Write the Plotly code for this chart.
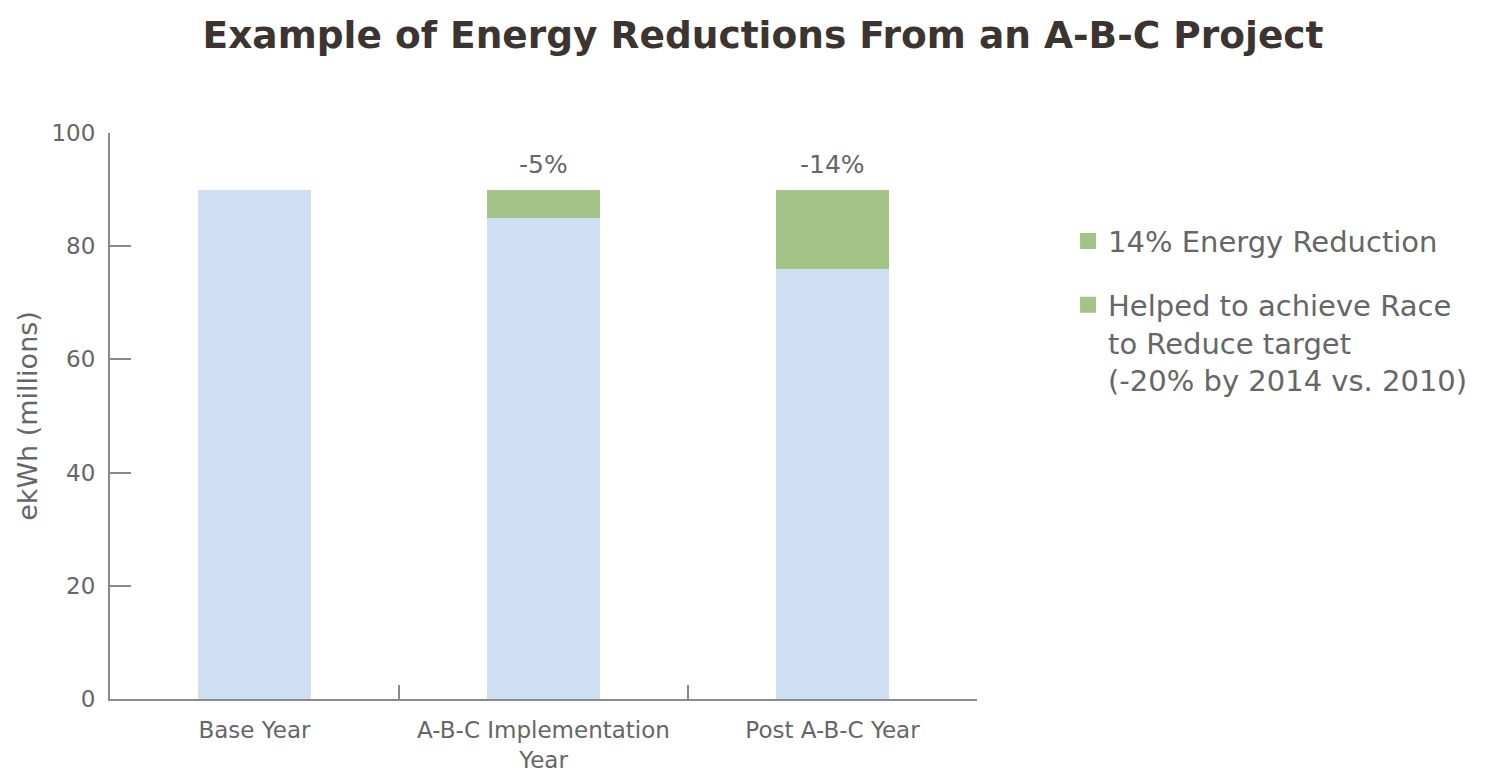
import plotly.graph_objects as go

categories = ["Base Year", "A-B-C Implementation<br>Year", "Post A-B-C Year"]
remaining = [90, 85, 76]
reduction = [0, 5, 14]
pct_labels = ["", "-5%", "-14%"]
legend_names = ["14% Energy Reduction",
                "Helped to achieve Race<br>to Reduce target<br>(-20% by 2014 vs. 2010)"]
y_ticks = [0, 20, 40, 60, 80, 100]

BLUE = "#cfdff3"
GREEN = "#a2c587"
TXT = "#666666"
AX = "#8a8a8a"

fig = go.Figure()
fig.add_trace(go.Bar(x=categories, y=remaining, marker=dict(color=BLUE, line=dict(width=0)),
                     width=0.39, showlegend=False, hoverinfo="skip"))
fig.add_trace(go.Bar(x=categories, y=reduction, marker=dict(color=GREEN, line=dict(width=0)),
                     width=0.39, showlegend=False, hoverinfo="skip"))
for i, nm in enumerate(legend_names):
    fig.add_trace(go.Scatter(x=[None], y=[None], mode="markers", name=nm,
                             legendgroup=f"g{i}",
                             marker=dict(symbol="square", size=16, color=GREEN)))

for c, r, d, lab in zip(categories, remaining, reduction, pct_labels):
    if lab:
        fig.add_annotation(x=c, y=r + d, text=lab, showarrow=False, yanchor="bottom",
                           yshift=9, font=dict(family="DejaVu Sans", size=25, color=TXT))

fig.update_layout(
    width=1510, height=780,
    barmode="stack",
    plot_bgcolor="white", paper_bgcolor="white",
    margin=dict(l=102, r=541, t=125, b=89),
    title=dict(text="Example of Energy Reductions From an A-B-C Project",
               x=0.5, xanchor="center", y=0.966, yanchor="middle",
               font=dict(family="DejaVu Sans", size=37.5, color="#3b3431", weight="bold")),
    legend=dict(x=1.105, y=0.854, xanchor="left", yanchor="top",
                font=dict(family="DejaVu Sans", size=29, color=TXT),
                tracegroupgap=23, valign="top", bgcolor="rgba(0,0,0,0)",
                itemclick=False, itemdoubleclick=False),
    showlegend=True,
)
fig.update_xaxes(type="category", range=[-0.5, 2.5], tickson="boundaries",
                 ticks="inside", ticklen=14, tickcolor=AX, tickwidth=1.5,
                 showline=True, linecolor=AX, linewidth=2, showgrid=False,
                 ticklabelstandoff=9,
                 tickfont=dict(family="DejaVu Sans", size=23, color=TXT))
fig.update_yaxes(range=[0, 100], tickvals=y_ticks, ticks="inside", ticklen=21,
                 tickcolor=AX, tickwidth=1.5, showline=True, linecolor=AX, linewidth=2,
                 showgrid=False, zeroline=False, ticklabelstandoff=8,
                 title=dict(text="ekWh (millions)", standoff=6,
                            font=dict(family="DejaVu Sans", size=27, color=TXT)),
                 tickfont=dict(family="DejaVu Sans", size=23, color=TXT))

fig.write_html("out.html")
